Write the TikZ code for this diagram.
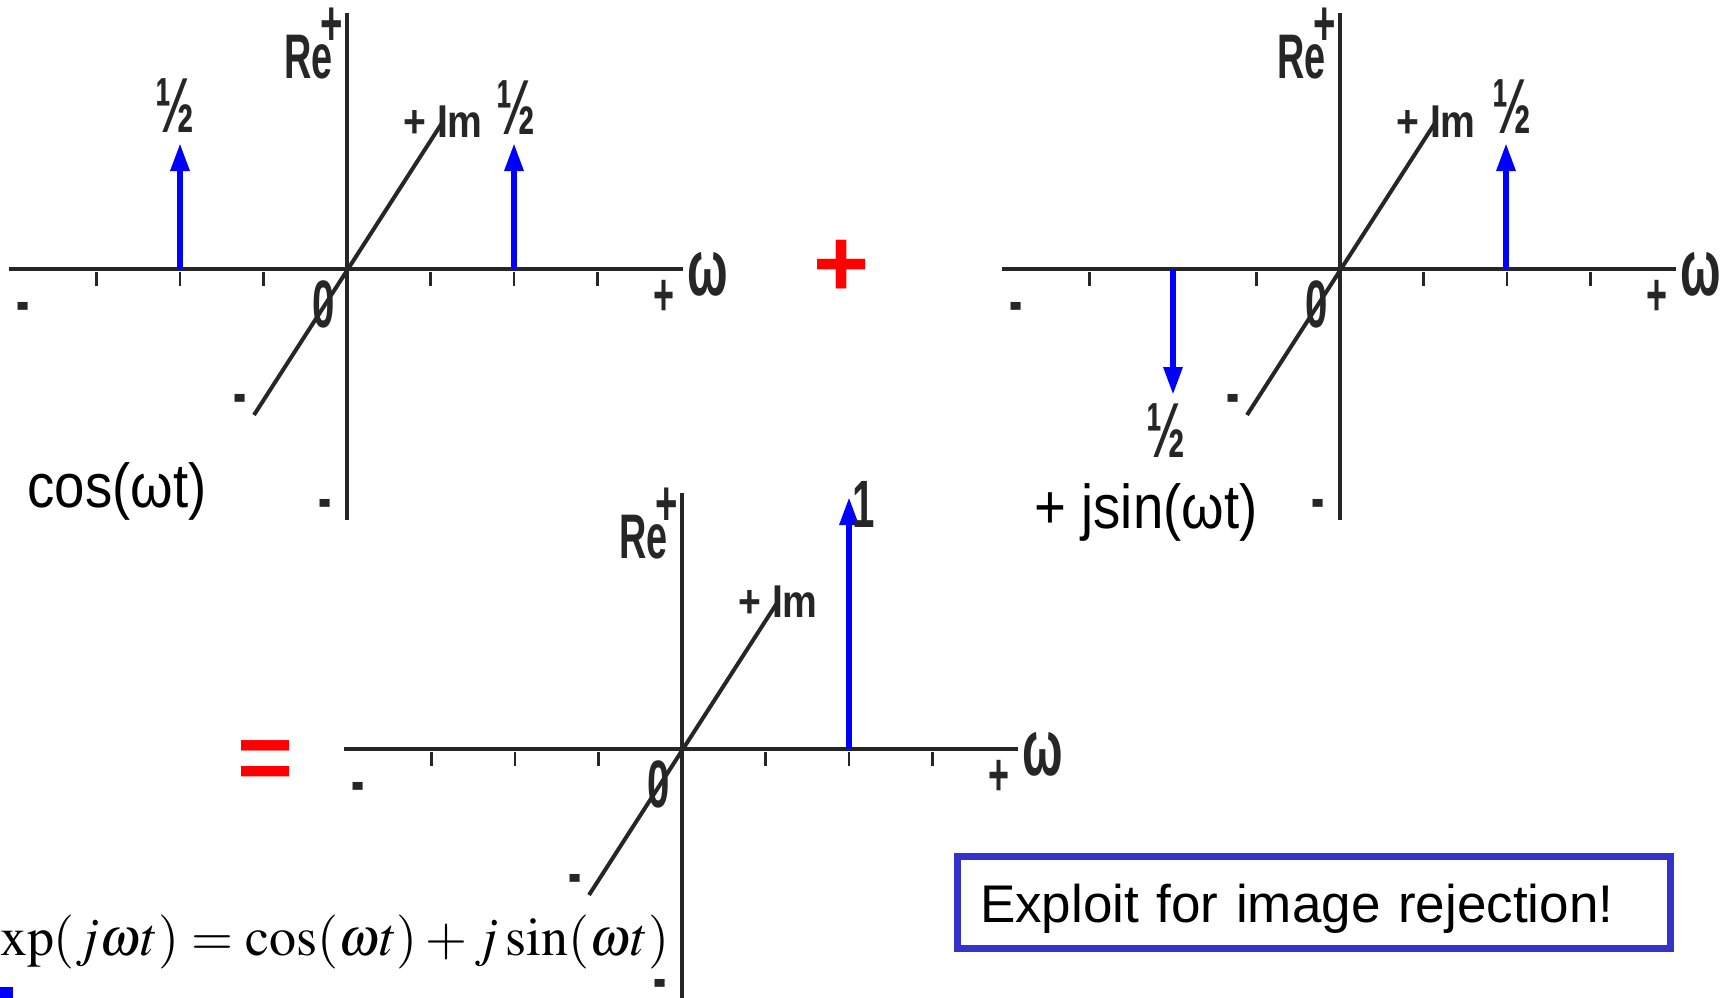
\documentclass[tikz,border=0pt]{standalone}
\usepackage{mathptmx}
\usepackage{fontspec}
\setmainfont{Liberation Serif}
\newfontfamily\lblfont[FakeStretch=0.6]{Liberation Sans}
\newfontfamily\imfont[FakeStretch=0.85]{Liberation Sans}
\newfontfamily\capfont[FakeStretch=0.88]{Liberation Sans}
\newfontfamily\boxfont{Liberation Sans}
\usetikzlibrary{arrows.meta}
\definecolor{axgray}{HTML}{262626}
\definecolor{spblue}{HTML}{0000FF}
\definecolor{boxblue}{HTML}{3333CC}
\definecolor{opred}{HTML}{FF0000}

\begin{document}
\begin{tikzpicture}[
  x=1pt, y=-1pt,
  every node/.style={inner sep=0pt, outer sep=0pt},
  axisline/.style={axgray, line width=4pt},
  reline/.style={axgray, line width=3.5pt},
  imline/.style={axgray, line width=4pt},
  tickmark/.style={axgray, line width=2.5pt},
  lbl/.style={text=axgray, font=\lblfont\bfseries\fontsize{#1}{#1}\selectfont},
  negmark/.style={lbl=66, anchor=base, yshift=-18pt},
  imlbl/.style={text=axgray, font=\imfont\bfseries\fontsize{46}{46}\selectfont},
  captxt/.style={text=black, font=\capfont\fontsize{62}{62}\selectfont},
  optxt/.style={text=opred, font=\boxfont\bfseries\fontsize{96}{96}\selectfont},
  spike/.style={spblue, line width=6pt, -{Triangle[length=28pt, width=18pt]}},
]

% Background
\fill[white] (0,0) rectangle (1724,998);
\useasboundingbox (0,0) rectangle (1724,998);

% The three spectrum axes
\foreach \name/\ox/\oy in {p1/347/269, p2/1340/269, p3/682/749}{
  \begin{scope}[shift={(\ox,\oy)}]
    \coordinate (\name-o) at (0,0);
    % frequency, Re and Im axes
    \draw[axisline] (-338,0) -- (336,0);
    \draw[reline] (0,-256) -- (0,251);
    \foreach \t in {-3,-2,-1,1,2,3}
      \draw[tickmark] (\t*83.5,3) -- (\t*83.5,17);
    % axis labels
    \node[lbl=63] (\name-re) at (-38.5,-211.5) {Re};
    \node[lbl=64] (\name-rep) at (-15.5,-242) {+};
    \node[imlbl] (\name-im) at (96,-147) {+ Im};
    \node[lbl=67] (\name-zero) at (-23,35) {0};
    \node[lbl=60] (\name-wp) at (317,29) {+};
    \node[lbl=80] (\name-w) at (361,5) {ω};
    \node[negmark] (\name-wn) at (-324,36) {-};
    \node[negmark] (\name-imn) at (-107,128) {-};
    \node[negmark] (\name-ren) at (-22,233) {-};
    \draw[imline] (-93,146) -- (95,-146);
  \end{scope}
}

% cos: two real half spikes
\draw[spike] (180,269) -- (180,143);
\draw[spike] (514,269) -- (514,143);
\node[lbl=78] (cosl) at (175,105.5) {½};
\node[lbl=78] (cosr) at (516.5,107.5) {½};
\node[captxt] (costxt) at (117,491) {cos(ωt)};

% plus sign
\node[optxt] (plus) at (842,268) {+};

% j sin: one up, one down
\draw[spike] (1506,269) -- (1506,143);
\draw[spike] (1173,269) -- (1173,395);
\node[lbl=78] (sinr) at (1511.5,106.5) {½};
\node[lbl=78] (sinl) at (1166.5,431) {½};
\node[captxt] (sintxt) at (1146,512) {+ jsin(ωt)};

% equals sign
\node[optxt] (equal) at (265.5,766) {=};

% sum: single spike
\draw[spike] (849,749) -- (849,497);
\node[lbl=67] (one) at (863.5,504) {1};

% Euler formula
\node[anchor=base west, font=\fontsize{54}{54}\selectfont] (euler) at (0,955)
  {$\mathrm{xp}(j\omega t)=\cos(\omega t)+j\sin(\omega t)$};
\fill[spblue] (0,987) rectangle (13,998);

% Note box
\node[draw=boxblue, line width=7pt, inner xsep=22.5pt, inner ysep=0pt,
  text width=668pt, align=left, text height=65.5pt, text depth=26.5pt,
  anchor=north west, font=\boxfont\fontsize{53}{60}\selectfont] (exploit)
  at (957.5,856.5) {Exploit for image rejection!};

\end{tikzpicture}
\end{document}
